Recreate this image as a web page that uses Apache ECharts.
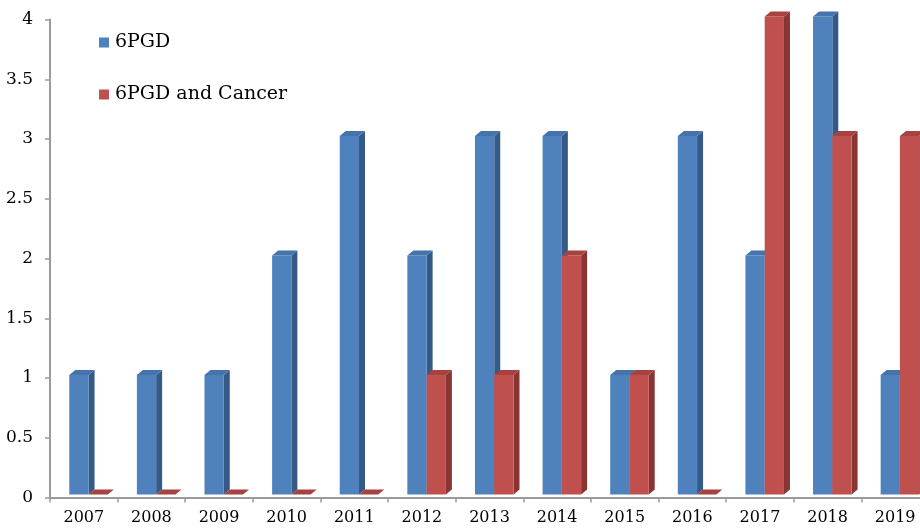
<!DOCTYPE html>
<html>
<head>
<meta charset="utf-8">
<style>
  html, body { margin: 0; padding: 0; background: #fff; }
  #chart { width: 920px; height: 529px; }
</style>
<script src="https://cdn.jsdelivr.net/npm/echarts@6/dist/echarts.min.js"></script>
</head>
<body>
<div id="chart"></div>
<script>
// 数据
var years = ['2007', '2008', '2009', '2010', '2011', '2012', '2013', '2014', '2015', '2016', '2017', '2018', '2019'];
var pgdValues = [1, 1, 1, 2, 3, 2, 3, 3, 1, 3, 2, 4, 1];
var cancerValues = [0, 0, 0, 0, 0, 1, 1, 2, 1, 0, 4, 3, 3];
var seriesNames = ['6PGD', '6PGD and Cancer'];

var FONT = 'DejaVu Serif, serif';

// 仿 Excel 3D 柱子: 正面 + 侧面 + 顶面
function makeRender(slot, colors) {
    return function(params, api) {
        var idx = api.value(0);
        var val = api.value(1);
        var band = api.size([1, 0])[0];
        var center = api.coord([idx, 0]);
        var top = api.coord([idx, val]);
        var w = band * 0.285;
        var x0 = center[0] - band * 0.215 + slot * w;
        var x1 = x0 + w;
        var yb = center[1] - 3;
        var yt = top[1] - 3;
        var dx = 6, dy = -5;
        return {
            type: 'group',
            children: [{
                type: 'polygon',
                shape: { points: [[x1, yb], [x1 + dx, yb + dy], [x1 + dx, yt + dy], [x1, yt]] },
                style: { fill: colors.side }
            }, {
                type: 'rect',
                shape: { x: x0, y: yt, width: w, height: yb - yt },
                style: { fill: colors.front }
            }, {
                type: 'polygon',
                shape: { points: [[x0, yt], [x1, yt], [x1 + dx, yt + dy], [x0 + dx, yt + dy]] },
                style: { fill: colors.top }
            }]
        };
    };
}

function toData(arr) {
    var out = [];
    for (var i = 0; i < arr.length; i++) {
        out.push([i, arr[i]]);
    }
    return out;
}

var blue = { front: '#4F81BD', side: '#355A88', top: '#4573AC' };
var red = { front: '#C0504D', side: '#893533', top: '#A6423F' };

var myChart = echarts.init(document.getElementById('chart'));
var option = {
    animation: false,
    textStyle: { fontFamily: FONT },
    grid: {
        left: 50,
        top: 19.5,
        width: 879,
        height: 478,
        outerBoundsMode: 'none',
        containLabel: false
    },
    legend: {
        orient: 'vertical',
        left: 99,
        top: 33,
        padding: 0,
        itemWidth: 10,
        itemHeight: 10,
        itemGap: 33,
        icon: 'rect',
        textStyle: { fontFamily: FONT, fontSize: 19, lineHeight: 18, color: '#000', padding: [0, 0, 0, 1] },
        data: seriesNames
    },
    xAxis: {
        type: 'category',
        data: years,
        axisLine: { lineStyle: { color: '#9A9A9A', width: 2 } },
        axisTick: { show: true, length: 5, lineStyle: { color: '#9A9A9A', width: 1.5 } },
        axisLabel: { color: '#000', fontSize: 16, fontFamily: FONT, margin: 12, interval: 0 }
    },
    yAxis: {
        type: 'value',
        min: 0,
        max: 4,
        interval: 0.5,
        splitLine: { show: false },
        axisLine: { show: true, lineStyle: { color: '#9A9A9A', width: 2 } },
        axisTick: { show: true, length: 5, lineStyle: { color: '#9A9A9A', width: 1.5 } },
        axisLabel: { color: '#000', fontSize: 17, fontFamily: FONT, margin: 17 }
    },
    series: [{
        name: seriesNames[0],
        type: 'custom',
        clip: false,
        itemStyle: { color: blue.front },
        renderItem: makeRender(0, blue),
        data: toData(pgdValues)
    }, {
        name: seriesNames[1],
        type: 'custom',
        clip: false,
        itemStyle: { color: red.front },
        renderItem: makeRender(1, red),
        data: toData(cancerValues)
    }]
};
myChart.setOption(option);
</script>
</body>
</html>
